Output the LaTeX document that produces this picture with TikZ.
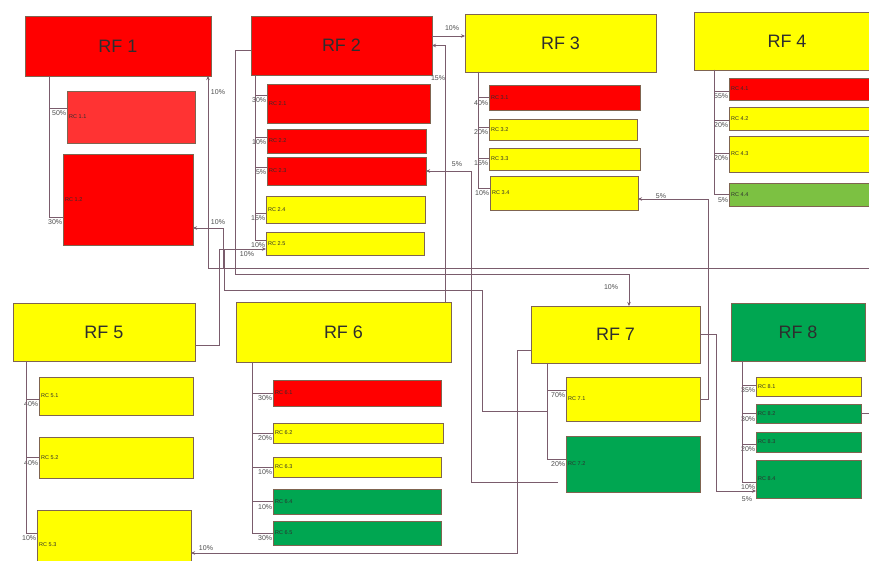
\documentclass[tikz,border=0pt]{standalone}
\usepackage{fontspec}
\setmainfont{Liberation Sans}
\usetikzlibrary{arrows.meta}
\definecolor{cred}{HTML}{FF0000}
\definecolor{credb}{HTML}{FF3333}
\definecolor{cyel}{HTML}{FFFF00}
\definecolor{cgrn}{HTML}{00A651}
\definecolor{clgr}{HTML}{7CC142}
\definecolor{cbord}{HTML}{7F6450}
\definecolor{cline}{HTML}{7A5C6C}
\definecolor{ctext}{HTML}{2E2E2E}
\newcommand\RFnode[7]{\node[rfbox, fill=#2, minimum width=#5pt, minimum height=#6pt] (#1) at (#3,#4) {#7};}
\newcommand\RCnode[7]{\node[rcbox, fill=#2, minimum width=#5pt, minimum height=#6pt, label={[rclab]west:#7}] (#1) at (#3,#4) {};}
\begin{document}
\begin{tikzpicture}[x=1pt,y=-1pt,
  box/.style={draw=cbord, line width=0.8pt, inner sep=0pt, outer sep=0pt},
  rfbox/.style={box, font=\fontsize{18}{20}\selectfont, text=ctext},
  rcbox/.style={box},
  rclab/.style={anchor=west, inner sep=2pt, font=\fontsize{5.5}{6}\selectfont, text=ctext},
  conn/.style={draw=cline, line width=0.7pt},
  arr/.style={conn, -{Stealth[length=4pt,width=3.5pt]}},
  pct/.style={font=\fontsize{7}{8}\selectfont, text=ctext!85, inner sep=0.5pt},
  tl/.style={pct, anchor=north east, yshift=-2pt}
]
\useasboundingbox (0,0) rectangle (869,561);
\fill[white] (0,0) rectangle (869,561);
\clip (0,0) rectangle (869,561);

% ---------- boxes ----------
\RFnode{rf1}{cred}{118}{46}{186}{60}{RF 1}
\RCnode{rc11}{credb}{131}{117}{128}{52}{RC 1.1}
\RCnode{rc12}{cred}{128}{199.5}{130}{91}{RC 1.2}

\RFnode{rf2}{cred}{341.5}{45.5}{181}{59}{RF 2}
\RCnode{rc21}{cred}{348.5}{103.5}{163}{39}{RC 2.1}
\RCnode{rc22}{cred}{346.5}{141}{159}{24}{RC 2.2}
\RCnode{rc23}{cred}{346.5}{171}{159}{28}{RC 2.3}
\RCnode{rc24}{cyel}{345.5}{209.5}{159}{27}{RC 2.4}
\RCnode{rc25}{cyel}{345}{243.5}{158}{23}{RC 2.5}

\RFnode{rf3}{cyel}{560.5}{43}{191}{58}{RF 3}
\RCnode{rc31}{cred}{564.5}{97.5}{151}{25}{RC 3.1}
\RCnode{rc32}{cyel}{563}{129.5}{148}{21}{RC 3.2}
\RCnode{rc33}{cyel}{564.5}{159}{151}{22}{RC 3.3}
\RCnode{rc34}{cyel}{564}{193}{148}{34}{RC 3.4}

\RFnode{rf4}{cyel}{787}{41}{186}{58}{RF 4}
\RCnode{rc41}{cred}{804.5}{89}{151}{22}{RC 4.1}
\RCnode{rc42}{cyel}{804.5}{118.5}{151}{23}{RC 4.2}
\RCnode{rc43}{cyel}{804.5}{154}{151}{36}{RC 4.3}
\RCnode{rc44}{clgr}{804.5}{194.5}{151}{23}{RC 4.4}

\RFnode{rf5}{cyel}{104}{332}{182}{58}{RF 5}
\RCnode{rc51}{cyel}{116}{396}{154}{38}{RC 5.1}
\RCnode{rc52}{cyel}{116}{457.5}{154}{41}{RC 5.2}
\RCnode{rc53}{cyel}{114}{545}{154}{70}{RC 5.3}

\RFnode{rf6}{cyel}{343.5}{332}{215}{60}{RF 6}
\RCnode{rc61}{cred}{357}{393}{168}{26}{RC 6.1}
\RCnode{rc62}{cyel}{358}{433}{170}{20}{RC 6.2}
\RCnode{rc63}{cyel}{357}{467}{168}{20}{RC 6.3}
\RCnode{rc64}{cgrn}{357}{501.5}{168}{25}{RC 6.4}
\RCnode{rc65}{cgrn}{357}{533}{168}{24}{RC 6.5}

\RFnode{rf7}{cyel}{615.5}{334.5}{169}{57}{RF 7}
\RCnode{rc71}{cyel}{633}{399}{134}{44}{RC 7.1}
\RCnode{rc72}{cgrn}{633}{464}{134}{56}{RC 7.2}

\RFnode{rf8}{cgrn}{798}{332}{134}{58}{RF 8}
\RCnode{rc81}{cyel}{808.5}{386.5}{105}{19}{RC 8.1}
\RCnode{rc82}{cgrn}{808.5}{413.5}{105}{19}{RC 8.2}
\RCnode{rc83}{cgrn}{808.5}{442}{105}{20}{RC 8.3}
\RCnode{rc84}{cgrn}{808.5}{479}{105}{38}{RC 8.4}

% ---------- trees ----------
\coordinate (t1) at ([xshift=24pt]rf1.south west);
\draw[conn] (t1) |- ([yshift=9pt]rc11.west) node[tl]{50\%};
\draw[conn] (t1) |- ([yshift=-17.5pt]rc12.west) node[tl]{30\%};

\coordinate (t2) at ([xshift=4pt]rf2.south west);
\draw[conn] (t2) |- ([yshift=8.5pt]rc21.west) node[tl]{30\%};
\draw[conn] (t2) |- ([yshift=4pt]rc22.west) node[tl]{10\%};
\draw[conn] (t2) |- ([yshift=4pt]rc23.west) node[tl]{5\%};
\draw[conn] (t2) |- ([yshift=-3.5pt]rc24.west) node[tl]{15\%};
\draw[conn] (t2) |- ([yshift=3.5pt]rc25.west) node[tl]{10\%};

\coordinate (t3) at ([xshift=13pt]rf3.south west);
\draw[conn] (t3) |- (rc31.west) node[tl]{40\%};
\draw[conn] (t3) |- ([yshift=2.5pt]rc32.west) node[tl]{20\%};
\draw[conn] (t3) |- ([yshift=1pt]rc33.west) node[tl]{15\%};
\draw[conn] (t3) |- ([yshift=5pt]rc34.west) node[tl]{10\%};

\coordinate (t4) at ([xshift=20pt]rf4.south west);
\draw[conn] (t4) |- ([yshift=-2pt]rc41.west) node[tl]{55\%};
\draw[conn] (t4) |- ([yshift=-1.5pt]rc42.west) node[tl]{20\%};
\draw[conn] (t4) |- ([yshift=1pt]rc43.west) node[tl]{20\%};
\draw[conn] (t4) |- (rc44.west) node[tl]{5\%};

\coordinate (t5) at ([xshift=13pt]rf5.south west);
\draw[conn] (t5) |- ([yshift=-3pt]rc51.west) node[tl]{40\%};
\draw[conn] (t5) |- (rc52.west) node[tl]{40\%};
\draw[conn] (t5) |- ([yshift=12pt]rc53.west) node[tl]{10\%};

\coordinate (t6) at ([xshift=16pt]rf6.south west);
\draw[conn] (t6) |- (rc61.west) node[tl]{30\%};
\draw[conn] (t6) |- (rc62.west) node[tl]{20\%};
\draw[conn] (t6) |- (rc63.west) node[tl]{10\%};
\draw[conn] (t6) |- (rc64.west) node[tl]{10\%};
\draw[conn] (t6) |- (rc65.west) node[tl]{30\%};

\coordinate (t7) at ([xshift=16pt]rf7.south west);
\draw[conn] (t7) |- ([yshift=9pt]rc71.west) node[tl]{70\%};
\draw[conn] (t7) |- ([yshift=5pt]rc72.west) node[tl]{20\%};

\coordinate (t8) at ([xshift=11pt]rf8.south west);
\draw[conn] (t8) |- ([yshift=1.5pt]rc81.west) node[tl]{35\%};
\draw[conn] (t8) |- (rc82.west) node[tl]{30\%};
\draw[conn] (t8) |- ([yshift=-2pt]rc83.west) node[tl]{20\%};
\draw[conn] (t8) |- ([yshift=-3pt]rc84.west) node[tl]{10\%};

% ---------- cross connectors ----------
\coordinate (e1) at (869,268);
\coordinate (j9) at (223,268);
\coordinate (j7) at (235,274);
\coordinate (s3) at (558,482);
\coordinate (c11) at (547,411);

\draw[arr] ([yshift=9.5pt]rf2.east) coordinate (a1) -- (a1 -| rf3.west);
\draw[arr] ([xshift=-6pt]rf6.north east) |- (rf2.east);
\draw[arr] (s3) -- ++(-87,0) |- (rc23.east);
\draw[arr] (rc71.east) -- ++(8,0) |- ([yshift=-6pt]rc34.east);
\draw[arr] (rf7.east) -- ++(16,0) |- ([yshift=-12pt]rc84.west);
\draw[arr] ([yshift=-15.5pt]rf7.west) -- ++(-14,0) |- ([yshift=-8pt]rc53.east);
\draw[arr] ([yshift=-4.5pt]rf2.west) -| (j7) -| ([xshift=13.5pt]rf7.north);
\draw[arr] (e1) -| ([xshift=-3pt]rf1.south east);
\draw[arr] (j9) |- ([yshift=-28.5pt]rc12.east);
\draw[arr] ([yshift=-13pt]rf5.east) -- ++(24,0) |- ([yshift=-5.5pt]rc25.west);
\draw[conn] (c11) -| (482,290) -| (224,249);
\draw[conn] (rc82.east) -- ++(10,0);

% ---------- connector labels ----------
\node[pct] (l1) at (452,28) {10\%};
\node[pct] (l2) at (438,78) {15\%};
\node[pct] (l3) at (457,164) {5\%};
\node[pct] (l4) at (661,196) {5\%};
\node[pct] (l5) at (747,499) {5\%};
\node[pct] (l6) at (206,548) {10\%};
\node[pct] (l7) at (611,287) {10\%};
\node[pct] (l8) at (218,92) {10\%};
\node[pct] (l9) at (218,222) {10\%};
\node[pct] (l10) at (247,254) {10\%};
\end{tikzpicture}
\end{document}
